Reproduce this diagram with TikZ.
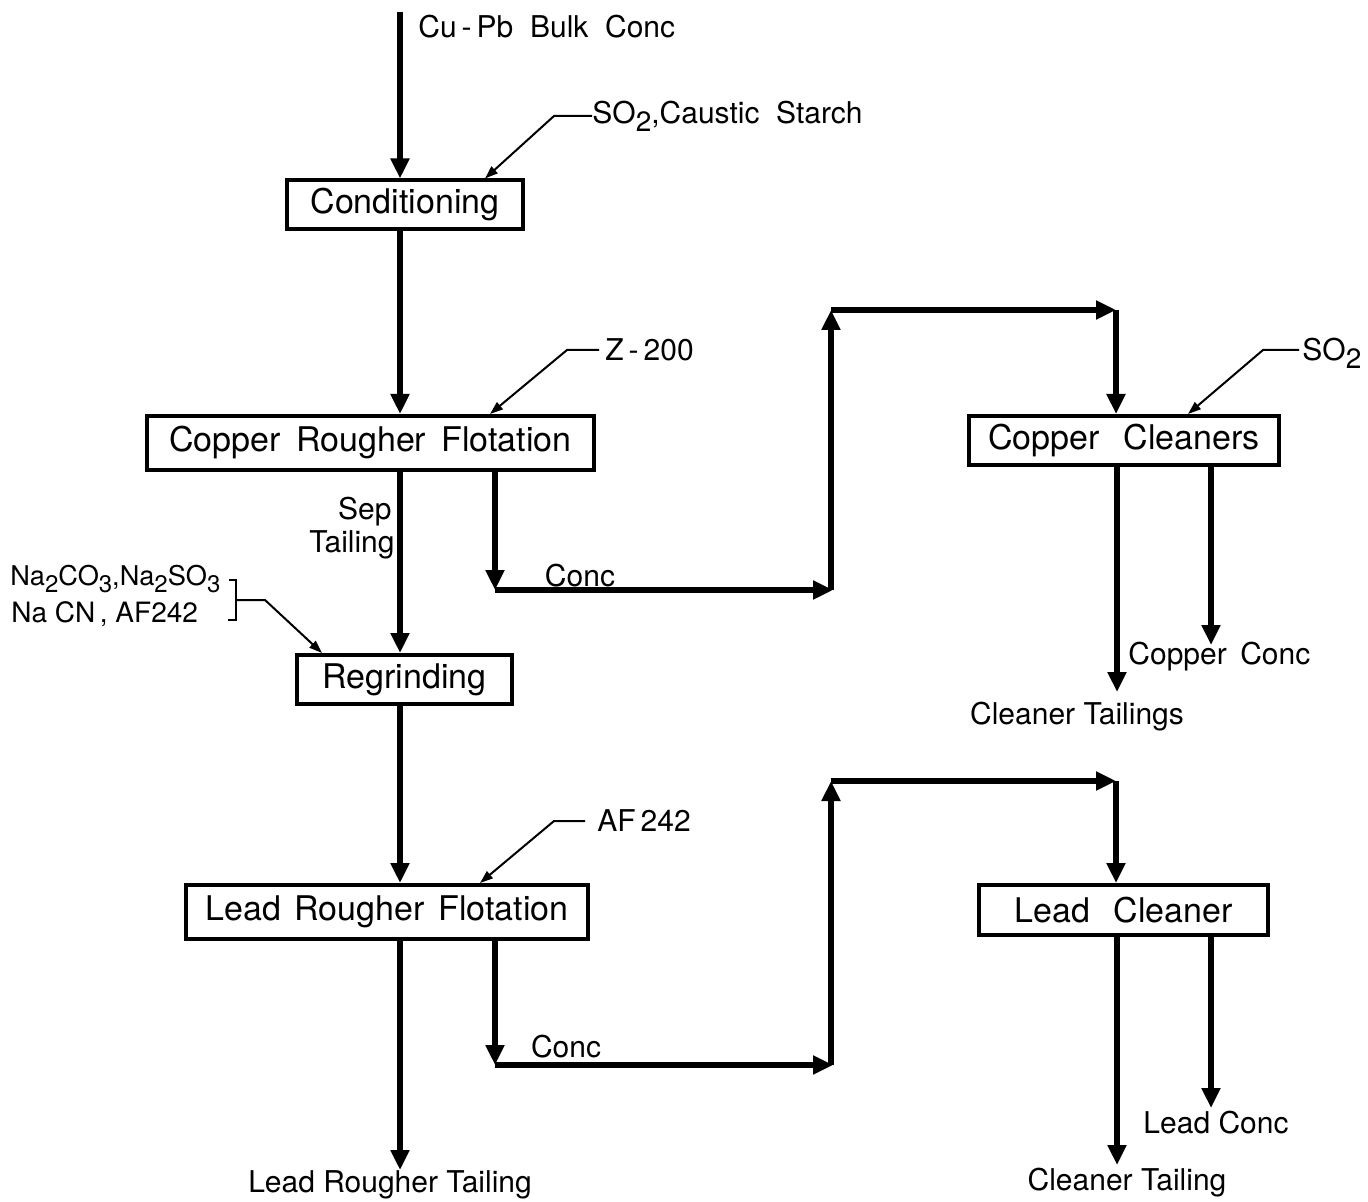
\documentclass[tikz,border=0pt]{standalone}
\usepackage{fontspec}
\setmainfont{TeX Gyre Heros}
\usetikzlibrary{arrows.meta}
\newcommand{\subs}[1]{\raisebox{-0.5ex}{\fontsize{14pt}{14pt}\selectfont #1}}
\newcommand{\subsm}[1]{\raisebox{-0.5ex}{\fontsize{12pt}{12pt}\selectfont #1}}
\begin{document}
\begin{tikzpicture}[x=0.5pt,y=-0.5pt,
  box/.style={draw,line width=2pt,inner sep=0pt,minimum height=24.5pt,font=\fontsize{17pt}{17pt}\selectfont},
  flow/.style={line width=3pt,-{Triangle[length=10pt,width=9pt]}},
  lead/.style={line width=1pt,-{Triangle[length=6.5pt,width=4.5pt]}},
  brk/.style={line width=1pt},
  lbl/.style={inner sep=0pt,font=\fontsize{15pt}{15pt}\selectfont}]
\useasboundingbox (0,0) rectangle (1368,1202);

% boxes
\node[box,minimum width=118pt] (cond) at (405,205) {Conditioning};
\node[box,minimum width=223.5pt,minimum height=27pt] (crf) at (370.5,443) {Copper\hspace{0.45em}Rougher\hspace{0.45em}Flotation};
\node[box,minimum width=107.5pt] (regr) at (404.5,679.5) {Regrinding};
\node[box,minimum width=201pt,minimum height=27pt] (lrf) at (387,912) {Lead\hspace{0.4em}Rougher\hspace{0.4em}Flotation};
\node[box,minimum width=155pt] (cc) at (1124,440.5) {Copper\hspace{0.7em}Cleaners};
\node[box,minimum width=144.5pt,minimum height=25pt] (lc) at (1123.5,910) {Lead\hspace{0.7em}Cleaner};

% main line
\coordinate (top) at (400,12);
\node[lbl,anchor=west] (feed) at (418,27) {Cu\,-\,Pb\ \ Bulk\ \ Conc};
\draw[flow] (top) -- (top |- cond.north);
\draw[flow] (cond.south -| top) -- (crf.north -| top);
\draw[flow] (crf.south -| top) -- (regr.north -| top);
\draw[flow] (regr.south -| top) -- (lrf.north -| top);
\coordinate (lrt) at (400,1170);
\draw[flow] (lrf.south -| top) -- (lrt);
\node[lbl] (lrtl) at (390,1185) {Lead\ Rougher\ Tailing};
\node[lbl,anchor=east] (sep) at (392,512) {Sep};
\node[lbl,anchor=east] (tail) at (395,545) {Tailing};

% copper conc branch
\coordinate (c1) at (495,590);
\coordinate (c2) at (833,590);
\coordinate (c2b) at (831,590);
\coordinate (c3) at (831,310);
\coordinate (c4) at (1116,310);
\draw[flow] (crf.south -| c1) -- (c1);
\draw[flow] (c1) -- (c2);
\draw[flow] (c2b) -- (c3);
\draw[flow] (c3) -- (c4);
\draw[flow] (c4) -- (cc.north -| c4);
\node[lbl] (concA) at (580,576) {Conc};

% copper cleaner outputs
\coordinate (ct) at (1117,692);
\coordinate (cpc) at (1211,645);
\draw[flow] (cc.south -| ct) -- (ct);
\draw[flow] (cc.south -| cpc) -- (cpc);
\node[lbl] (ctl) at (1077,717) {Cleaner\ Tailings};
\node[lbl,anchor=west] (cpcl) at (1128,657) {Copper\hspace{0.45em}Conc};

% lead conc branch
\coordinate (l1) at (495,1065);
\coordinate (l2) at (833,1065);
\coordinate (l2b) at (831,1065);
\coordinate (l3) at (831,781);
\coordinate (l4) at (1116,781);
\draw[flow] (lrf.south -| l1) -- (l1);
\draw[flow] (l1) -- (l2);
\draw[flow] (l2b) -- (l3);
\draw[flow] (l3) -- (l4);
\draw[flow] (l4) -- (lc.north -| l4);
\node[lbl] (concB) at (566,1047) {Conc};

% lead cleaner outputs
\coordinate (lt) at (1117,1165);
\coordinate (lpc) at (1211,1108);
\draw[flow] (lc.south -| lt) -- (lt);
\draw[flow] (lc.south -| lpc) -- (lpc);
\node[lbl] (ltl) at (1127,1183) {Cleaner\ Tailing};
\node[lbl] (lpcl) at (1216,1123) {Lead\ Conc};

% reagents
\node[lbl,anchor=west] (r1) at (592,116) {SO\subs{2},Caustic\ \ Starch};
\draw[lead] (r1.west) -- ++(-38,0) -- ([xshift=40pt]cond.north);
\node[lbl,anchor=west] (r2) at (605,350) {Z\,-\,200};
\draw[lead] (r2.west) ++(-6,0) -- ++(-32,0) -- ([xshift=59.75pt]crf.north);
\node[lbl,anchor=west] (r3) at (1302,353) {SO\subs{2}};
\draw[lead] (r3.west) ++(-3,-3) -- ++(-36,0) -- ([xshift=32pt]cc.north);
\node[lbl,anchor=west] (r4) at (597,821) {AF\,242};
\draw[lead] (r4.west) ++(-12,0) -- ++(-31,0) -- ([xshift=46.5pt]lrf.north);

\node[lbl,anchor=west,font=\fontsize{13.6pt}{13.6pt}\selectfont] (na1) at (10,579) {Na\subsm{2}CO\subsm{3},Na\subsm{2}SO\subsm{3}};
\node[lbl,anchor=west,font=\fontsize{14pt}{14pt}\selectfont] (na2) at (11,614) {Na\ CN\,,\ AF242};
\draw[brk] (229,580) -- (236,580) -- (236,620) -- (228,620);
\coordinate (br) at (236,600);
\draw[lead] (br) -- (265,600) -- ([xshift=-41.25pt]regr.north);
\end{tikzpicture}
\end{document}
